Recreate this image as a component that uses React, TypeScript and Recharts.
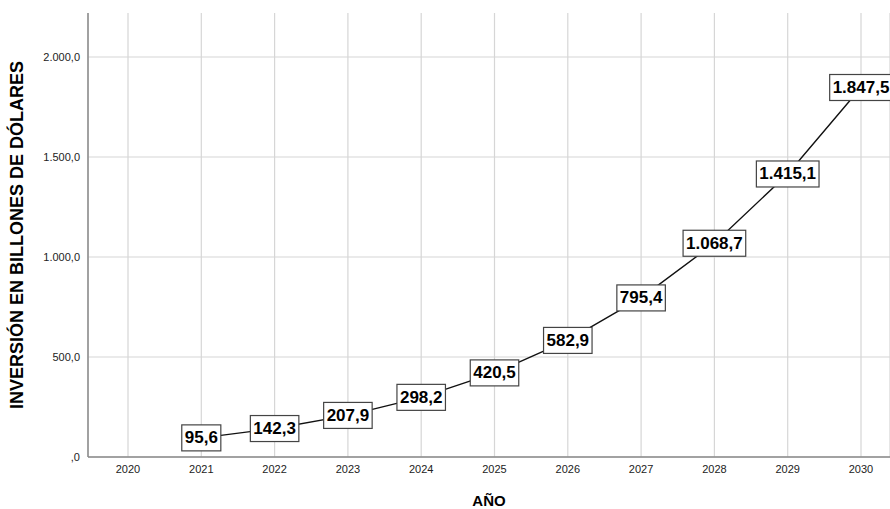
import React from 'react';
import { LineChart, Line, XAxis, YAxis, CartesianGrid, LabelList } from 'recharts';

const years = ['2020', '2021', '2022', '2023', '2024', '2025', '2026', '2027', '2028', '2029', '2030'];
const inversion: (number | null)[] = [null, 95.6, 142.3, 207.9, 298.2, 420.5, 582.9, 795.4, 1068.7, 1415.1, 1847.5];
const yTicks = [0, 500, 1000, 1500, 2000];
const yMax = 2220;

const data = years.map((y, i) => ({ year: y, value: inversion[i] }));

// es-ES style: 1.847,5 / ,0
function fmt(v: number) {
  const [int, dec] = v.toFixed(1).split('.');
  const withDots = int.replace(/\B(?=(\d{3})+(?!\d))/g, '.');
  return (withDots === '0' ? '' : withDots) + ',' + dec;
}

function textWidth(s: string) {
  let w = 0;
  for (const c of s) w += c === '.' || c === ',' ? 4.7 : 9.45;
  return w;
}

function BoxLabel(props: any) {
  const { x, y, value } = props;
  if (value == null) return null;
  const txt = fmt(Number(value));
  const w = textWidth(txt) + 6;
  const h = 26;
  return (
    <g>
      <rect x={x - w / 2} y={y - h / 2} width={w} height={h} fill="#fff" stroke="#444" strokeWidth={1.2} />
      <text x={x} y={y + 1} textAnchor="middle" dominantBaseline="middle" fontSize={17} fontWeight="bold" fill="#000">
        {txt}
      </text>
    </g>
  );
}

function YLabel(props: any) {
  const { viewBox } = props;
  const cy = viewBox.y + viewBox.height / 2;
  return (
    <text x={18} y={cy} transform={`rotate(-90, 18, ${cy})`} textAnchor="middle" dominantBaseline="middle"
      fontSize={18} fontWeight="bold" fill="#000">
      INVERSIÓN EN BILLONES DE DÓLARES
    </text>
  );
}

// horizontal grid only at the tick values (no line at the top edge)
function hGrid({ yAxis, offset }: any) {
  const s = yAxis && yAxis.scale;
  return yTicks.map((t) =>
    typeof s === 'function' ? s(t) : offset.top + offset.height * (1 - t / yMax)
  );
}

export default function App() {
  return (
    <div style={{ position: 'absolute', left: 0, top: 0, fontFamily: '"Liberation Sans", Arial, sans-serif' }}>
      <LineChart width={890} height={509} data={data} margin={{ top: 13, right: 0, left: 0, bottom: 0 }}>
        <CartesianGrid stroke="#d6d6d6" strokeWidth={1.2} horizontalCoordinatesGenerator={hGrid} />
        <XAxis
          dataKey="year"
          padding={{ left: 40, right: 29 }}
          tickLine={false}
          axisLine={{ stroke: '#8a8a8a', strokeWidth: 1.5 }}
          tick={{ fill: '#222', fontSize: 11 }}
          height={52}
          label={{ value: 'AÑO', position: 'insideBottom', offset: 3, fill: '#000', fontSize: 15, fontWeight: 'bold' }}
        />
        <YAxis
          domain={[0, yMax]}
          ticks={yTicks}
          width={88}
          tickLine={false}
          axisLine={{ stroke: '#8a8a8a', strokeWidth: 1.5 }}
          tick={{ fill: '#222', fontSize: 11 }}
          tickFormatter={(v) => fmt(v)}
          label={<YLabel />}
        />
        <Line
          dataKey="value"
          stroke="#111"
          strokeWidth={1.4}
          dot={false}
          isAnimationActive={false}
          connectNulls
        >
          <LabelList dataKey="value" content={<BoxLabel />} />
        </Line>
      </LineChart>
    </div>
  );
}
